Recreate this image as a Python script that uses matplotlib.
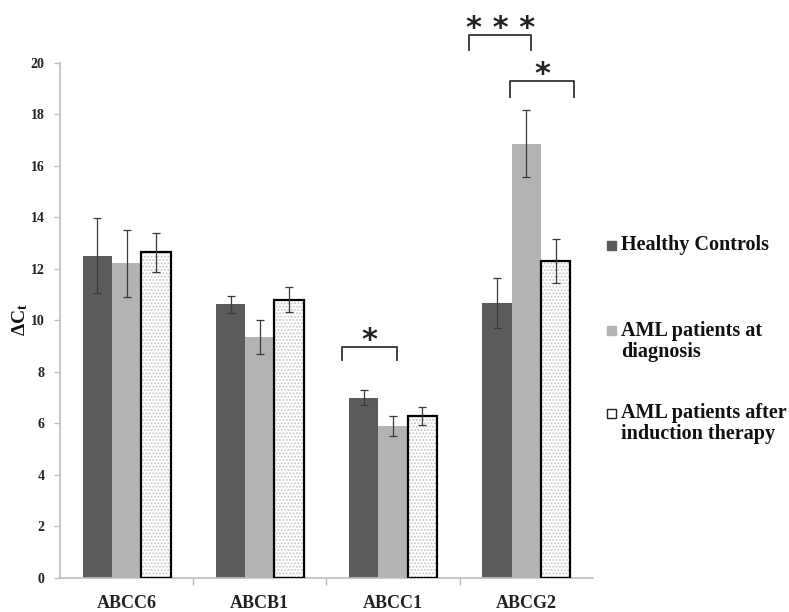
import numpy as np
import matplotlib
matplotlib.use("Agg")
import matplotlib.pyplot as plt
from matplotlib.patches import Rectangle

plt.rcParams['font.family'] = ['Liberation Serif', 'DejaVu Serif']
plt.rcParams['mathtext.fontset'] = 'custom'
plt.rcParams['mathtext.rm'] = 'Liberation Serif'
plt.rcParams['mathtext.bf'] = 'Liberation Serif:bold'
plt.rcParams['hatch.linewidth'] = 0.9

# data
genes = ['ABCC6', 'ABCB1', 'ABCC1', 'ABCG2']
healthy = [12.52, 10.63, 7.00, 10.68]
healthy_err = [1.46, 0.33, 0.30, 0.97]
diagnosis = [12.22, 9.36, 5.90, 16.87]
diagnosis_err = [1.30, 0.66, 0.40, 1.29]
induction = [12.65, 10.81, 6.28, 12.31]
induction_err = [0.75, 0.50, 0.35, 0.87]

group_labels = ['Healthy Controls', 'AML patients at\ndiagnosis',
                'AML patients after\ninduction therapy']

# significance brackets: (gene index, left offset, right offset, top, leg bottom, stars)
sig_gene = [2, 3, 3]
sig_left = [-0.383, -0.43, -0.12]
sig_right = [0.03, 0.037, 0.36]
sig_top = [8.96, 21.09, 19.30]
sig_leg = [8.47, 20.50, 18.67]
sig_text = ['*', '* * *', '*']

dark = '#5b5b5b'
light = '#b3b3b3'
axis_grey = '#bdbdbd'
err_col = '#3a3a3a'

fig = plt.figure(figsize=(7.89, 6.12), dpi=100)
ax = fig.add_axes([0.0760, 0.0556, 0.6755, 0.8415])

x = np.arange(len(genes))
w = 0.22
ekw = dict(ecolor=err_col, elinewidth=0.9, capsize=3, capthick=0.9)

ax.bar(x - w, healthy, w, color=dark, yerr=healthy_err, error_kw=ekw, zorder=2)
ax.bar(x, diagnosis, w, color=light, yerr=diagnosis_err, error_kw=ekw, zorder=2)
# dotted bar: grey hatch underneath, black outline on top
ax.bar(x + w, induction, w, color='white', edgecolor='#c4c4c4', hatch='.....',
       linewidth=0, zorder=2)
ax.bar(x + w, induction, w, fill=False, edgecolor='black', linewidth=1.6,
       yerr=induction_err, error_kw=ekw, zorder=3)

ax.set_xlim(-0.5, len(genes) - 0.5)
ax.set_ylim(0, 20)
ax.set_yticks(np.arange(0, 21, 2))
ax.tick_params(axis='y', labelsize=10, length=4, color=axis_grey, width=1, pad=7)
for lab in ax.get_yticklabels():
    lab.set_fontweight('bold')
    lab.set_color('#222222')

ax.set_xticks(x)
ax.set_xticklabels(genes, fontsize=13, fontweight='bold', color='#222222')
ax.tick_params(axis='x', length=0, pad=12)
ax.set_xticks(np.arange(0.5, len(genes) - 0.5, 1), minor=True)
ax.tick_params(axis='x', which='minor', length=5, color=axis_grey, width=1)

for s in ['top', 'right']:
    ax.spines[s].set_visible(False)
for s in ['left', 'bottom']:
    ax.spines[s].set_color(axis_grey)
    ax.spines[s].set_linewidth(1.2)

fig.text(20 / 789, 1 - 320 / 612, r'$\mathbf{\Delta C_t}$', fontsize=14,
         rotation=90, ha='center', va='center', color='#111111')

# significance brackets
for g, l, r, top, leg, txt in zip(sig_gene, sig_left, sig_right, sig_top, sig_leg, sig_text):
    xl, xr = g + l, g + r
    ax.plot([xl, xl, xr, xr], [leg, top, top, leg], color='#333333', lw=1.3,
            clip_on=False, solid_joinstyle='round')
    ax.text((xl + xr) / 2, top - 0.3, txt, ha='center', va='bottom', fontsize=22,
            fontweight='bold', family='DejaVu Sans', color='#222222', clip_on=False)

# legend drawn at the right
leg_y = [245, 331, 413]
leg_fill = [dark, light, 'white']
leg_edge = [dark, light, '#222222']
for yy, lab, fc, ec in zip(leg_y, group_labels, leg_fill, leg_edge):
    fy = 1 - yy / 612
    fig.patches.append(Rectangle((607 / 789, fy - 4.5 / 612), 9 / 789, 9 / 612,
                                 transform=fig.transFigure, facecolor=fc,
                                 edgecolor=ec, linewidth=1))
    fig.text(621 / 789, fy + 10 / 612, lab, fontsize=14.5, fontweight='bold',
             va='top', ha='left', color='#111111', linespacing=1.1)

fig.savefig('out.png', dpi=100)
